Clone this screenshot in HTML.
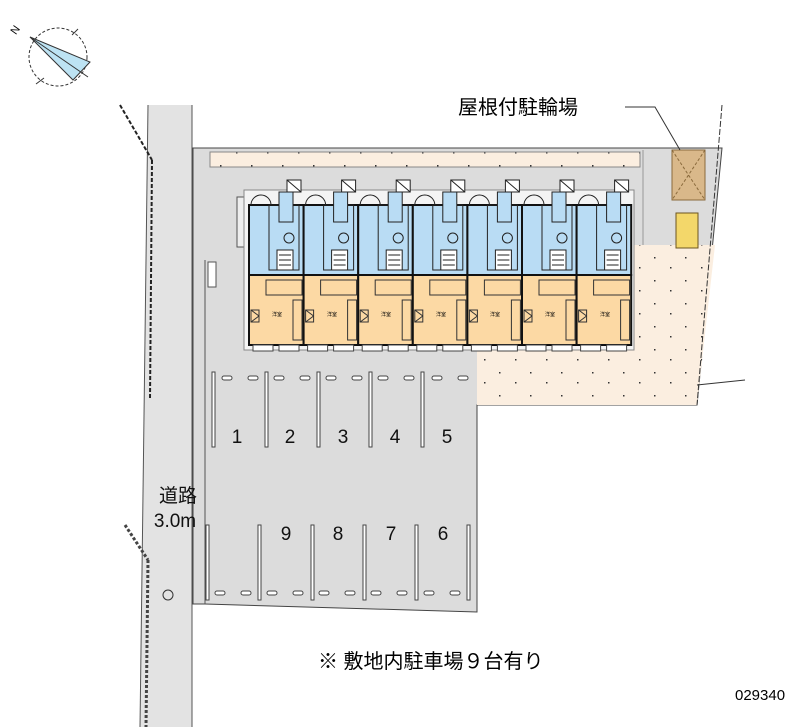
<!DOCTYPE html>
<html><head><meta charset="utf-8"><style>
html,body{margin:0;padding:0;background:#fff;}
svg{display:block}
text{font-family:"Liberation Sans","Noto Sans CJK JP",sans-serif;}
</style></head><body>
<svg width="800" height="727" viewBox="0 0 800 727" xmlns="http://www.w3.org/2000/svg">
<defs>
<pattern id="dots" width="31" height="23" patternUnits="userSpaceOnUse">
<rect width="31" height="23" fill="#fbeee0"/>
<rect x="3" y="4" width="1.5" height="1.5" fill="#333"/>
<rect x="19" y="14" width="1.5" height="1.5" fill="#333"/>
</pattern>
<g id="unit">
<rect x="38" y="180" width="14" height="12" fill="#fff" stroke="#222"/>
<line x1="38" y1="180" x2="52" y2="192" stroke="#222"/>
<rect x="0" y="205" width="54.6" height="70" fill="#b9dcf4" stroke="#111" stroke-width="2"/>
<rect x="0" y="275" width="54.6" height="70" fill="#fcd9a4" stroke="#111" stroke-width="2"/>
<rect x="20" y="205" width="30" height="65" fill="none" stroke="#222"/>
<path d="M2 205 A10 10 0 0 1 22 205" fill="none" stroke="#222"/>
<rect x="30" y="192" width="14" height="30" fill="#b9dcf4" stroke="#222"/>
<rect x="28" y="250" width="16" height="20" fill="#fff" stroke="#222"/>
<line x1="30" y1="255" x2="42" y2="255" stroke="#222"/><line x1="30" y1="260" x2="42" y2="260" stroke="#222"/><line x1="30" y1="265" x2="42" y2="265" stroke="#222"/>
<circle cx="40" cy="238" r="5" fill="none" stroke="#222"/>
<rect x="17" y="280" width="36" height="15" fill="none" stroke="#333"/>
<rect x="44" y="300" width="9" height="40" fill="none" stroke="#333"/>
<rect x="2" y="310" width="8" height="12" fill="none" stroke="#333"/>
<line x1="2" y1="310" x2="10" y2="316" stroke="#333"/><line x1="2" y1="322" x2="10" y2="316" stroke="#333"/>
<rect x="4" y="345" width="20" height="6" fill="#fff" stroke="#444"/>
<rect x="30" y="345" width="20" height="6" fill="#fff" stroke="#444"/>
</g>
</defs>
<!-- compass -->
<circle cx="58" cy="57" r="29" fill="none" stroke="#333" stroke-dasharray="3,2"/>
<polygon points="30,37 90,62 73,80" fill="#bde3f3" stroke="#333"/>
<line x1="30" y1="37" x2="88" y2="77" stroke="#333"/>
<line x1="72" y1="35" x2="78" y2="29" stroke="#333"/>
<line x1="36" y1="84" x2="44" y2="78" stroke="#333"/>
<text x="10" y="32" font-size="11" transform="rotate(-55 16 28)">N</text>
<!-- road -->
<polygon points="148,105 192,105 192,727 140,727" fill="#e3e3e3"/>
<line x1="148" y1="105" x2="140" y2="727" stroke="#555"/>
<line x1="192" y1="105" x2="192" y2="727" stroke="#555"/>
<line x1="120" y1="105" x2="152" y2="160" stroke="#222" stroke-width="2" stroke-dasharray="4,2"/>
<line x1="152" y1="160" x2="150" y2="400" stroke="#222" stroke-width="2" stroke-dasharray="4,2"/>
<line x1="125" y1="525" x2="148" y2="560" stroke="#444" stroke-width="3" stroke-dasharray="3,2"/>
<line x1="148" y1="560" x2="146" y2="727" stroke="#444" stroke-width="3" stroke-dasharray="3,2"/>
<circle cx="168" cy="595" r="5" fill="none" stroke="#333"/>
<!-- lot -->
<polygon points="193,148 722,148 697,405 477,405 477,612 205,604 193,604" fill="#dcdcdc" stroke="#444"/>
<rect x="210" y="152" width="430" height="15" fill="url(#dots)" stroke="#888"/>
<polygon points="477,245 715,245 697,405 477,405" fill="url(#dots)"/>
<line x1="643" y1="150" x2="643" y2="245" stroke="#999"/>
<line x1="722" y1="105" x2="697" y2="405" stroke="#333" stroke-dasharray="6,2"/>
<line x1="697" y1="385" x2="745" y2="380" stroke="#333"/>
<line x1="205" y1="260" x2="205" y2="604" stroke="#555"/>
<rect x="208" y="262" width="8" height="25" fill="#fff" stroke="#555"/>
<rect x="237" y="197" width="12" height="50" fill="#eee" stroke="#555"/>
<!-- bike shed -->
<rect x="672" y="150" width="33" height="50" fill="#d9b88a" stroke="#8a6a3c"/>
<line x1="672" y1="150" x2="705" y2="200" stroke="#8a6a3c" stroke-dasharray="3,2"/>
<line x1="705" y1="150" x2="672" y2="200" stroke="#8a6a3c" stroke-dasharray="3,2"/>
<rect x="676" y="213" width="22" height="35" fill="#f3d76a" stroke="#6b5520"/>
<polyline points="625,107 655,107 680,150" fill="none" stroke="#333"/>
<text x="458" y="114" font-size="20">屋根付駐輪場</text>
<!-- building -->
<rect x="244" y="190" width="390" height="160" fill="#f4f4f4" stroke="#888"/>
<use href="#unit" transform="translate(249,0)"/>
<use href="#unit" transform="translate(303.6,0)"/>
<use href="#unit" transform="translate(358.2,0)"/>
<use href="#unit" transform="translate(412.8,0)"/>
<use href="#unit" transform="translate(467.4,0)"/>
<use href="#unit" transform="translate(522,0)"/>
<use href="#unit" transform="translate(576.6,0)"/>
<g font-size="5" text-anchor="middle">
<text x="277" y="316">洋室</text><text x="332" y="316">洋室</text><text x="386" y="316">洋室</text><text x="441" y="316">洋室</text><text x="495" y="316">洋室</text><text x="550" y="316">洋室</text><text x="605" y="316">洋室</text>
</g>
<!-- parking -->
<g fill="#fff" stroke="#444" stroke-width="1">
<rect x="212" y="372" width="3" height="75"/><rect x="265" y="372" width="3" height="75"/><rect x="317" y="372" width="3" height="75"/><rect x="369" y="372" width="3" height="75"/><rect x="421" y="372" width="3" height="75"/>
<rect x="206" y="525" width="3" height="75"/><rect x="258" y="525" width="3" height="75"/><rect x="311" y="525" width="3" height="75"/><rect x="363" y="525" width="3" height="75"/><rect x="415" y="525" width="3" height="75"/><rect x="467" y="525" width="3" height="75"/>
</g>
<g fill="#fff" stroke="#444">
<rect x="222" y="376" width="10" height="4" rx="2"/><rect x="248" y="376" width="10" height="4" rx="2"/>
<rect x="274" y="376" width="10" height="4" rx="2"/><rect x="300" y="376" width="10" height="4" rx="2"/>
<rect x="326" y="376" width="10" height="4" rx="2"/><rect x="352" y="376" width="10" height="4" rx="2"/>
<rect x="378" y="376" width="10" height="4" rx="2"/><rect x="404" y="376" width="10" height="4" rx="2"/>
<rect x="432" y="376" width="10" height="4" rx="2"/><rect x="458" y="376" width="10" height="4" rx="2"/>
<rect x="215" y="591" width="10" height="4" rx="2"/><rect x="241" y="591" width="10" height="4" rx="2"/>
<rect x="267" y="591" width="10" height="4" rx="2"/><rect x="293" y="591" width="10" height="4" rx="2"/>
<rect x="319" y="591" width="10" height="4" rx="2"/><rect x="345" y="591" width="10" height="4" rx="2"/>
<rect x="371" y="591" width="10" height="4" rx="2"/><rect x="397" y="591" width="10" height="4" rx="2"/>
<rect x="424" y="591" width="10" height="4" rx="2"/><rect x="450" y="591" width="10" height="4" rx="2"/>
</g>
<g font-size="19" fill="#111" text-anchor="middle">
<text x="237" y="443">1</text><text x="290" y="443">2</text><text x="343" y="443">3</text><text x="395" y="443">4</text><text x="447" y="443">5</text>
<text x="286" y="540">9</text><text x="338" y="540">8</text><text x="391" y="540">7</text><text x="443" y="540">6</text>
<text x="178" y="502">道路</text>
<text x="175" y="527" font-family="Liberation Mono,monospace">3.0m</text>
</g>
<text x="318" y="668" font-size="20">※ 敷地内駐車場９台有り</text>
<text x="735" y="700" font-size="15">029340</text>
</svg>
</body></html>
